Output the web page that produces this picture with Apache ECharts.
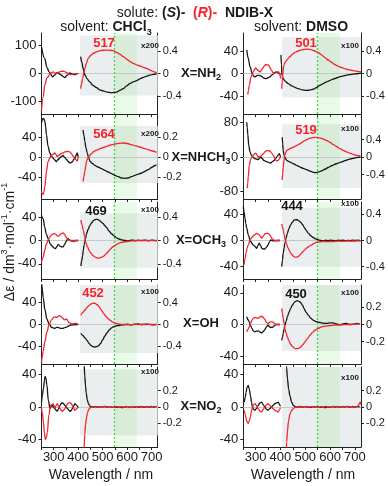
<!DOCTYPE html>
<html><head><meta charset="utf-8">
<script src="https://cdn.jsdelivr.net/npm/echarts@6/dist/echarts.min.js"></script>
<style>html,body{margin:0;padding:0;background:#fff}#c{width:388px;height:486px}</style>
</head><body><div id="c"></div>
<script>
// ---------------- DATA (wavelength nm, Δε) ----------------
// black = (S)-enantiomer, red = (R)-enantiomer; UV = left axis, VIS = right (magnified) axis
const CHCl3_NH2_S_UV = [[250,95],[263,54],[272,22],[281,6],[288,-4],[295,-12],[304,-6],[314,4],[323,-1],[332,-6],[339,-11],[345,-15],[355,-6],[366,2],[376,-2],[386,-4],[394,-1],[400,0]];
const CHCl3_NH2_R_UV = [[250,-131],[257,-83],[263,-42],[273,-15],[284,-4],[291,3],[298,6],[305,2],[312,0],[318,4],[325,6],[332,8],[339,8],[346,6],[352,4],[359,0],[366,-4],[376,-2],[386,-1],[400,0]];
const CHCl3_NH2_S_VIS = [[410,0.30],[415,0.2],[420,0.09],[428,-0.03],[436,-0.09],[447,-0.15],[460,-0.21],[475,-0.25],[488,-0.29],[502,-0.31],[518,-0.33],[536,-0.345],[557,-0.33],[570,-0.30],[584,-0.27],[598,-0.22],[611,-0.18],[625,-0.15],[639,-0.125],[652,-0.095],[666,-0.07],[680,-0.045],[693,-0.03],[707,-0.015],[721,-0.006]];
const CHCl3_NH2_R_VIS = [[410,-0.27],[414,-0.18],[418,-0.09],[423,0.01],[428,0.10],[434,0.19],[441,0.27],[451,0.32],[461,0.357],[475,0.385],[489,0.405],[502,0.413],[516,0.417],[530,0.413],[543,0.405],[557,0.375],[571,0.34],[584,0.30],[598,0.256],[611,0.215],[625,0.18],[638,0.155],[652,0.137],[666,0.11],[680,0.09],[690,0.07],[700,0.048],[710,0.03],[721,0.012]];

const CHCl3_NHCH3_S_UV = [[250,68],[254,75],[257,77],[260,76],[264,71],[267,60],[270,45],[277,21],[284,8],[290,2],[297,-2],[304,-6],[311,-9],[318,-5],[325,-2],[331,1],[338,3],[345,-1],[352,-5],[359,-9],[366,-12],[372,-11],[377,-9],[382,-5],[386,-2],[391,3],[396,8],[400,0]];
const CHCl3_NHCH3_R_UV = [[250,-69],[254,-74],[257,-75],[260,-70],[264,-59],[267,-45],[270,-29],[277,-9],[284,-2],[290,3],[295,5],[304,8],[309,5],[314,1],[320,3],[325,5],[331,7],[338,8],[345,10],[352,11],[359,11],[366,10],[372,7],[377,3],[382,0],[386,-2],[391,-6],[396,-8],[400,0]];
const CHCl3_NHCH3_S_VIS = [[420,0.27],[424,0.21],[427,0.157],[432,0.09],[437,0.04],[442,0.0],[448,-0.043],[458,-0.065],[468,-0.083],[481,-0.10],[495,-0.117],[509,-0.133],[523,-0.15],[536,-0.167],[550,-0.183],[564,-0.197],[577,-0.21],[591,-0.213],[604,-0.21],[618,-0.197],[632,-0.183],[645,-0.172],[659,-0.16],[672,-0.145],[686,-0.127],[700,-0.105],[710,-0.09],[720,-0.077]];
const CHCl3_NHCH3_R_VIS = [[420,-0.243],[424,-0.19],[427,-0.143],[431,-0.09],[434,-0.043],[440,-0.01],[445,0.007],[453,0.03],[461,0.05],[475,0.068],[489,0.083],[502,0.095],[516,0.107],[533,0.12],[550,0.13],[567,0.137],[584,0.14],[601,0.135],[618,0.123],[635,0.112],[652,0.10],[669,0.087],[686,0.073],[703,0.06],[720,0.047]];

const CHCl3_OCH3_S_UV = [[250,43],[257,37],[263,23],[270,11],[277,3],[286,-6],[292,-9],[297,-11],[302,-13],[307,-14],[312,-11],[318,-7],[322,-8],[327,-10],[333,-11],[338,-11],[344,-7],[349,-3],[354,1],[359,3],[364,1],[368,0],[377,-1],[386,-1],[393,0],[400,0]];
const CHCl3_OCH3_R_UV = [[250,-37],[257,-29],[263,-17],[270,-6],[277,1],[286,7],[292,10],[297,11],[302,12],[307,11],[312,9],[318,7],[322,8],[327,11],[333,12],[338,13],[344,11],[349,7],[354,4],[359,1],[368,0],[400,0]];
const CHCl3_OCH3_S_VIS = [[411,-0.43],[414,-0.35],[418,-0.26],[421,-0.16],[425,-0.06],[430,0.03],[434,0.114],[441,0.19],[448,0.257],[455,0.30],[461,0.33],[468,0.35],[475,0.36],[482,0.35],[489,0.33],[495,0.31],[502,0.286],[509,0.25],[516,0.217],[526,0.16],[536,0.114],[547,0.075],[557,0.046],[567,0.025],[577,0.011],[591,0.0],[605,-0.006],[615,0.004],[625,0.006],[635,-0.004],[645,0.005],[655,-0.003],[665,0.002],[675,0.006],[685,-0.004],[695,0.003],[705,0.006],[715,-0.003],[722,0.002]];
const CHCl3_OCH3_R_VIS = [[411,0.343],[416,0.26],[421,0.17],[426,0.07],[431,-0.03],[438,-0.11],[445,-0.17],[453,-0.22],[461,-0.257],[470,-0.28],[478,-0.297],[487,-0.295],[495,-0.286],[504,-0.265],[513,-0.23],[522,-0.19],[532,-0.143],[541,-0.11],[550,-0.086],[560,-0.06],[570,-0.04],[584,-0.025],[598,-0.017],[612,-0.01],[625,-0.006],[640,-0.003],[655,0.002],[670,-0.002],[685,0.001],[700,-0.003],[722,0.0]];

const CHCl3_OH_S_UV = [[250,80],[254,62],[257,48],[264,27],[272,10],[281,1],[291,-5],[302,-7],[308,-6],[315,-5],[322,-6],[329,-7],[336,-7],[343,-6],[350,-5],[356,-4],[363,-2],[370,-1],[386,0],[400,0]];
const CHCl3_OH_R_UV = [[250,-68],[254,-58],[257,-48],[264,-31],[272,-14],[281,0],[291,8.5],[302,14],[311,13],[316,14],[322,16],[327,15],[332,14],[338,11],[343,8.5],[348,9],[352,10],[358,6],[363,3],[370,2],[377,1.2],[384,2],[390,2.2],[395,1],[400,0]];
const CHCl3_OH_S_VIS = [[411,-0.16],[419,-0.2],[427,-0.24],[436,-0.29],[445,-0.35],[453,-0.385],[461,-0.405],[468,-0.41],[475,-0.405],[483,-0.385],[491,-0.35],[500,-0.28],[509,-0.21],[518,-0.15],[527,-0.1],[535,-0.066],[543,-0.044],[553,-0.027],[564,-0.018],[574,-0.011],[584,-0.006],[600,0.0],[615,-0.008],[630,0.005],[645,0.01],[660,-0.005],[675,0.008],[690,0.002],[705,-0.006],[720,0.004]];
const CHCl3_OH_R_VIS = [[411,0.17],[419,0.22],[427,0.26],[436,0.31],[445,0.35],[453,0.375],[461,0.39],[469,0.385],[478,0.36],[486,0.32],[495,0.26],[504,0.2],[513,0.15],[521,0.11],[530,0.08],[540,0.047],[550,0.026],[560,0.012],[570,0.006],[585,0.0],[600,0.006],[615,-0.004],[630,0.003],[645,-0.002],[660,0.005],[675,-0.003],[690,0.004],[705,0.0],[720,0.003]];

const CHCl3_NO2_S_UV = [[250,6],[254,15],[258,23],[262,33],[265,37.5],[268,35],[272,27],[278,8],[285,-2],[290,1],[294,2],[299,0],[304,-2],[310,-4],[315,-5],[320,-2],[326,2],[331,4.5],[335,5.4],[340,4],[346,2],[351,0],[356,-2],[362,-4],[367,-5.4],[372,-4],[376,-2],[381,1],[386,4],[390,3],[394,2],[400,-1]];
const CHCl3_NO2_R_UV = [[250,-2],[254,-8],[258,-19],[262,-32],[266,-40],[270,-37],[274,-31],[280,-10],[287,2],[292,3],[297,4],[301,2],[306,-1],[310,2],[315,4],[320,1],[326,-2],[331,-4],[335,-5.4],[340,-4],[346,-2],[351,1],[356,4],[362,5],[367,5.4],[372,4],[376,2],[381,-1],[386,-4],[390,-3],[394,-2],[400,0]];
const CHCl3_NO2_S_VIS = [[418,0.9],[421,0.7],[424,0.52],[427,0.38],[430,0.26],[433,0.17],[437,0.09],[442,0.04],[447,0.015],[452,0.005],[460,0.0],[470,0.006],[480,-0.004],[490,0.005],[500,0.0],[510,0.007],[520,-0.003],[530,0.004],[540,-0.005],[550,0.003],[560,-0.006],[570,0.004],[580,-0.008],[590,-0.002],[600,0.005],[610,-0.006],[620,0.004],[630,-0.003],[640,0.005],[650,-0.004],[660,0.006],[670,-0.005],[680,0.004],[690,-0.002],[700,0.006],[710,0.0],[720,0.004]];
const CHCl3_NO2_R_VIS = [[418,-0.9],[421,-0.7],[424,-0.5],[427,-0.33],[430,-0.22],[434,-0.13],[438,-0.07],[443,-0.03],[448,-0.01],[455,0.0],[465,0.004],[475,-0.003],[485,0.005],[495,0.0],[505,0.006],[515,-0.004],[525,0.005],[535,0.002],[545,-0.004],[555,0.006],[565,0.0],[575,0.005],[585,-0.003],[595,0.006],[605,0.002],[615,-0.004],[625,0.005],[635,0.0],[645,0.006],[655,-0.003],[665,0.004],[675,0.0],[685,0.006],[695,-0.002],[705,0.005],[715,0.002],[722,0.006]];

const DMSO_NH2_S_UV = [[264,42],[270,27],[277,12],[286,0],[292,-5],[297,-6],[304,-4],[311,-3],[318,-4],[324,-5],[332,-8],[340,-9],[348,-8],[357,-6],[364,-3],[371,-1],[378,2],[384,3],[390,1],[395,0],[400,-2]];
const DMSO_NH2_R_UV = [[268,-37.5],[271,-30],[274,-21],[281,-6],[290,3],[295,7],[300,10],[304,8],[308,6],[317,3],[322,5],[328,9],[334,13],[341,16],[347,15.5],[352,15],[358,10],[364,6],[369,2],[374,0],[379,1],[384,2],[389,3],[393,3],[397,-2],[401,-9]];
const DMSO_NH2_S_VIS = [[402,0.33],[404,0.15],[406,-0.03],[411,-0.09],[418,-0.13],[425,-0.16],[435,-0.19],[445,-0.22],[458,-0.245],[471,-0.27],[488,-0.29],[505,-0.30],[518,-0.295],[532,-0.28],[545,-0.25],[559,-0.21],[572,-0.18],[586,-0.15],[599,-0.125],[612,-0.10],[626,-0.08],[639,-0.06],[652,-0.045],[666,-0.03],[680,-0.02],[693,-0.012],[707,-0.004],[720,0.004],[725,0.006]];
const DMSO_NH2_R_VIS = [[405,-0.27],[407,-0.15],[409,-0.03],[411,0.06],[414,0.15],[418,0.19],[422,0.22],[430,0.26],[438,0.30],[448,0.34],[458,0.375],[471,0.40],[485,0.42],[498,0.43],[512,0.435],[525,0.42],[539,0.40],[552,0.37],[566,0.33],[579,0.285],[592,0.24],[606,0.2],[619,0.16],[632,0.13],[646,0.107],[659,0.087],[673,0.07],[686,0.058],[700,0.048],[713,0.038],[725,0.03]];

const DMSO_NHCH3_S_UV = [[264,81],[266,68],[268,54],[272,27],[277,12],[282,5],[286,1.5],[292,-2],[297,-4],[304,-5],[310,-6],[315,-3],[320,0],[327,-4],[333,-8],[340,-10],[347,-11.6],[354,-13],[360,-14],[367,-11],[374,-8],[380,-4],[387,1.5],[391,5],[395,8],[400,0]];
const DMSO_NHCH3_R_UV = [[266,-73],[268,-60],[270,-46],[274,-19],[281,-4],[286,1],[290,4],[295,7],[300,9],[305,5],[310,0],[315,1],[320,1.5],[326,5],[331,8],[337,12],[344,15],[350,15],[357,14],[364,9],[371,4],[377,-2],[382,-8],[387,-9],[391,-8],[395,-5],[398,-2],[400,0]];
const DMSO_NHCH3_S_VIS = [[407,0.45],[409,0.3],[411,0.15],[414,0.06],[417,0.0],[421,-0.04],[425,-0.075],[435,-0.105],[445,-0.136],[455,-0.16],[465,-0.19],[478,-0.225],[492,-0.26],[505,-0.29],[519,-0.32],[530,-0.345],[539,-0.36],[552,-0.345],[566,-0.316],[579,-0.28],[593,-0.24],[606,-0.2],[620,-0.166],[633,-0.14],[646,-0.113],[660,-0.085],[673,-0.06],[686,-0.04],[700,-0.023],[712,-0.01],[723,0.0]];
const DMSO_NHCH3_R_VIS = [[407,-0.527],[409,-0.38],[411,-0.226],[414,-0.09],[417,0.038],[421,0.1],[425,0.15],[431,0.17],[438,0.19],[448,0.215],[458,0.24],[468,0.27],[478,0.30],[488,0.34],[498,0.376],[508,0.405],[519,0.43],[532,0.445],[545,0.45],[558,0.435],[572,0.414],[585,0.38],[599,0.34],[612,0.29],[626,0.24],[640,0.19],[653,0.15],[666,0.118],[680,0.09],[693,0.06],[707,0.038],[723,0.023]];

const DMSO_OCH3_S_UV = [[250,52],[253,44],[257,34],[260,26],[264,19],[270,8.7],[279,-1.5],[290,-6.7],[297,-9],[304,-12],[309,-8],[314,-4],[320,-8],[325,-12],[331,-13],[337,-13],[344,-10],[350,-6.7],[356,-2],[361,1],[366,0],[372,-0.5],[378,-0.5],[385,0],[398,0]];
const DMSO_OCH3_R_UV = [[253,-37],[257,-28],[261,-19.5],[265,-12],[270,-6.7],[279,2],[285,5],[290,7],[297,9],[304,11],[309,10],[314,8.7],[320,6],[325,3.6],[331,7],[337,10],[344,11],[350,11],[356,9],[361,6],[366,3],[371,1],[380,0],[398,0]];
const DMSO_OCH3_S_VIS = [[405,-0.40],[408,-0.3],[411,-0.195],[415,-0.11],[418,-0.04],[423,0.04],[428,0.113],[434,0.18],[441,0.24],[448,0.28],[455,0.31],[461,0.318],[468,0.318],[475,0.30],[482,0.277],[489,0.245],[495,0.205],[503,0.16],[512,0.113],[522,0.075],[532,0.046],[542,0.025],[552,0.01],[562,0.0],[572,-0.005],[582,0.004],[592,-0.003],[602,0.006],[612,0.0],[622,-0.005],[632,0.004],[642,0.0],[652,0.005],[662,-0.004],[672,0.003],[682,-0.003],[692,0.005],[702,0.0],[712,0.004],[723,-0.002]];
const DMSO_OCH3_R_VIS = [[405,0.256],[408,0.21],[411,0.164],[415,0.09],[419,0.01],[425,-0.06],[431,-0.118],[438,-0.17],[445,-0.21],[452,-0.24],[458,-0.256],[465,-0.255],[472,-0.246],[479,-0.22],[485,-0.195],[495,-0.155],[505,-0.118],[515,-0.09],[525,-0.067],[535,-0.045],[545,-0.03],[558,-0.02],[572,-0.015],[590,-0.016],[612,-0.015],[630,-0.01],[650,-0.012],[670,-0.008],[690,-0.01],[710,-0.006],[723,-0.005]];

const DMSO_OH_S_UV = [[264,9.8],[269,6],[274,3.4],[279,-1],[285,-5],[291,-8],[297,-9.4],[303,-8.5],[310,-8],[317,-9.5],[324,-10.6],[330,-9],[337,-6.4],[343,-3],[350,-0.9],[355,-2.5],[360,-3.8],[366,-3.5],[371,-3],[377,-1],[382,0],[398,0]];
const DMSO_OH_R_UV = [[264,-9.4],[269,-6],[274,-3],[279,1],[285,5.5],[291,8],[297,9],[303,8.5],[310,7.7],[317,9.5],[324,10.6],[330,9],[337,6.4],[343,3],[350,1.3],[355,2.5],[360,3.4],[366,3.3],[371,3],[377,1],[382,0],[398,0]];
const DMSO_OH_S_VIS = [[405,-0.184],[408,-0.15],[411,-0.106],[415,-0.05],[418,-0.008],[423,0.04],[428,0.09],[434,0.14],[441,0.188],[448,0.225],[455,0.255],[461,0.27],[468,0.278],[475,0.27],[482,0.255],[489,0.225],[495,0.188],[503,0.145],[512,0.11],[522,0.075],[532,0.05],[545,0.033],[559,0.024],[572,0.016],[586,0.012],[599,0.018],[612,0.02],[625,0.006],[639,-0.004],[652,0.008],[666,0.012],[680,0.0],[693,0.004],[707,0.012],[720,0.008]];
const DMSO_OH_R_VIS = [[405,0.188],[408,0.13],[411,0.07],[415,0.01],[418,-0.047],[423,-0.1],[428,-0.145],[434,-0.19],[441,-0.23],[448,-0.255],[455,-0.274],[461,-0.28],[468,-0.282],[475,-0.275],[482,-0.263],[490,-0.235],[499,-0.204],[509,-0.165],[519,-0.125],[529,-0.094],[539,-0.067],[552,-0.045],[566,-0.027],[582,-0.018],[599,-0.012],[619,-0.008],[639,-0.004],[660,-0.002],[680,0.0],[700,0.004],[720,0.008]];

const DMSO_NO2_S_UV = [[254,6],[258,12],[261,18],[265,24],[270,26.5],[274,22],[279,14],[283,6],[287,0],[292,-3],[297,-4],[303,-2],[310,2],[317,5],[324,6],[330,3],[337,0],[344,-3],[350,-4],[357,-2],[364,0],[370,2],[377,4],[384,5],[391,6],[396,3],[400,1]];
const DMSO_NO2_R_UV = [[254,-4],[258,-9],[261,-14],[265,-18],[270,-20],[274,-17],[279,-12],[283,-5],[287,0],[292,3],[297,4],[303,2],[310,-2],[317,-5],[324,-6],[330,-3],[337,0],[344,3],[350,4],[357,2],[364,0],[370,-2],[377,-4],[384,-5],[391,-6],[396,-3],[400,-1]];
const DMSO_NO2_S_VIS = [[418,0.9],[421,0.7],[425,0.48],[428,0.35],[433,0.22],[438,0.14],[445,0.06],[452,0.02],[460,0.005],[470,0.0],[480,0.006],[490,-0.004],[500,0.004],[510,0.0],[520,-0.006],[530,0.004],[540,0.0],[550,0.006],[560,-0.005],[570,0.004],[580,-0.008],[590,0.003],[600,-0.004],[610,0.006],[620,-0.002],[630,0.005],[640,-0.004],[650,0.006],[660,0.0],[670,0.008],[680,-0.003],[690,0.006],[700,0.0],[710,0.005],[720,0.002]];
const DMSO_NO2_R_VIS = [[418,-0.9],[421,-0.7],[425,-0.43],[428,-0.3],[432,-0.18],[438,-0.09],[445,-0.04],[455,-0.01],[465,0.004],[475,-0.002],[485,0.005],[495,0.0],[505,0.006],[515,-0.003],[525,0.004],[535,0.0],[545,0.005],[555,-0.004],[565,0.006],[575,0.0],[585,0.008],[595,-0.002],[605,0.005],[615,0.002],[625,0.006],[635,-0.003],[645,0.004],[655,0.0],[665,0.006],[675,-0.004],[685,0.005],[695,0.0],[705,0.004],[712,0.01],[718,0.04],[722,0.06],[725,0.03]];

// tick labels
const X_TICKS = [250,300,350,400,450,500,550,600,650,700];
const X_LABELS = [300,400,500,600,700];
const SUBSTITUENTS = ['NH2','NHCH3','OCH3','OH','NO2'];
const PEAKS_CHCl3 = ['517','564','469','452',''];
const PEAKS_DMSO = ['501','519','444','450',''];
const PEAK_SIGN_CHCl3 = ['R','R','S','R',''];
const PEAK_SIGN_DMSO = ['R','R','S','S',''];
const MAGNIF_CHCl3 = ['x200','x200','x100','x100','x100'];
const MAGNIF_DMSO = ['x100','x100','x100','x100','x100'];
const EXC_LINE = 549, EXC_END = 640, VIS_START = 407;

// ---------------- layout ----------------
const FONT = '"Liberation Sans", Arial, Helvetica, sans-serif';
const BLACK = '#141414', RED = '#f5222d';
const COLS = [{left:41.5, width:116.2},{left:243.3, width:117.7}];
const ROWS = [{top:33,bottom:114},{top:115,bottom:199},{top:202,bottom:279},{top:285,bottom:364},{top:367,bottom:447}];

const panels = [
 {d:[CHCl3_NH2_S_UV,CHCl3_NH2_R_UV,CHCl3_NH2_S_VIS,CHCl3_NH2_R_VIS], yL:144, yR:0.72, tL:[-100,0,100], tR:[-0.4,0,0.4], gray:[0.68,-0.39]},
 {d:[DMSO_NH2_S_UV,DMSO_NH2_R_UV,DMSO_NH2_S_VIS,DMSO_NH2_R_VIS], yL:72, yR:0.72, tL:[-40,0,40], tR:[-0.4,0,0.4], gray:[0.65,-0.42]},
 {d:[CHCl3_NHCH3_S_UV,CHCl3_NHCH3_R_UV,CHCl3_NHCH3_S_VIS,CHCl3_NHCH3_R_VIS], yL:84, yR:0.42, tL:[-40,0,40], tR:[-0.2,0,0.2], gray:[0.31,-0.26]},
 {d:[DMSO_NHCH3_S_UV,DMSO_NHCH3_R_UV,DMSO_NHCH3_S_VIS,DMSO_NHCH3_R_VIS], yL:98, yR:0.96, tL:[-80,0,80], tR:[-0.4,0,0.4], gray:[0.75,-0.71]},
 {d:[CHCl3_OCH3_S_UV,CHCl3_OCH3_R_UV,CHCl3_OCH3_S_VIS,CHCl3_OCH3_R_VIS], yL:66, yR:0.65, tL:[-40,0,40], tR:[-0.4,0,0.4], gray:[0.46,-0.46]},
 {d:[DMSO_OCH3_S_UV,DMSO_OCH3_R_UV,DMSO_OCH3_S_VIS,DMSO_OCH3_R_VIS], yL:59, yR:0.59, tL:[-40,0,40], tR:[-0.4,0,0.4], gray:[0.50,-0.40]},
 {d:[CHCl3_OH_S_UV,CHCl3_OH_R_UV,CHCl3_OH_S_VIS,CHCl3_OH_R_VIS], yL:72, yR:0.72, tL:[-40,0,40], tR:[-0.4,0,0.4], gray:[0.72,-0.52]},
 {d:[DMSO_OH_S_UV,DMSO_OH_R_UV,DMSO_OH_S_VIS,DMSO_OH_R_VIS], yL:50, yR:0.46, tL:[-40,0,40], tR:[-0.2,0,0.2], gray:[0.46,-0.31]},
 {d:[CHCl3_NO2_S_UV,CHCl3_NO2_R_UV,CHCl3_NO2_S_VIS,CHCl3_NO2_R_VIS], yL:49, yR:0.49, tL:[-40,0,40], tR:[-0.2,0,0.2], gray:[0.46,-0.35]},
 {d:[DMSO_NO2_S_UV,DMSO_NO2_R_UV,DMSO_NO2_S_VIS,DMSO_NO2_R_VIS], yL:49, yR:0.49, tL:[-40,0,40], tR:[-0.2,0,0.2], gray:[0.49,-0.49]}
];

const grid=[], xAxis=[], yAxis=[], series=[];
panels.forEach((p,i)=>{
  const r = Math.floor(i/2), c = i%2;
  grid.push({left:COLS[c].left, width:COLS[c].width, top:ROWS[r].top, height:ROWS[r].bottom-ROWS[r].top, outerBoundsMode:'none', containLabel:false});
  xAxis.push({type:'value', gridIndex:i, min:250, max:725,
    axisLine:{show:true, onZero:false, lineStyle:{color:'#222', width:1}},
    axisTick:{show:true, inside:false, length:3, customValues:X_TICKS, lineStyle:{color:'#222', width:1}},
    axisLabel:{show:r===4, customValues:X_LABELS, fontSize:13, color:'#1a1a1a', margin:4, fontFamily:FONT},
    splitLine:{show:false}});
  yAxis.push({type:'value', gridIndex:i, min:-p.yL, max:p.yL, position:'left',
    axisLine:{show:true, onZero:false, lineStyle:{color:'#222', width:1}},
    axisTick:{show:true, inside:false, length:3, customValues:p.tL, lineStyle:{color:'#222'}},
    axisLabel:{customValues:p.tL, fontSize:13, color:'#1a1a1a', margin:5, fontFamily:FONT},
    splitLine:{show:false}});
  yAxis.push({type:'value', gridIndex:i, min:-p.yR, max:p.yR, position:'right',
    axisLine:{show:true, onZero:false, lineStyle:{color:'#222', width:1}},
    axisTick:{show:true, inside:false, length:3, customValues:p.tR, lineStyle:{color:'#222'}},
    axisLabel:{customValues:p.tR, fontSize:11, color:'#1a1a1a', margin:5, fontFamily:FONT},
    splitLine:{show:false}});
  series.push({type:'line', xAxisIndex:i, yAxisIndex:2*i+1, data:[], z:1, silent:true, animation:false,
    markArea:{silent:true, animation:false, data:[
      [{xAxis:VIS_START, yAxis:p.gray[0], itemStyle:{color:'#eaeeee'}},{xAxis:725, yAxis:p.gray[1]}],
      [{xAxis:EXC_LINE, yAxis:p.yR, itemStyle:{color:'rgba(150,228,140,0.2)'}},{xAxis:EXC_END, yAxis:-p.yR}]
    ]},
    markLine:{silent:true, animation:false, symbol:'none', label:{show:false}, data:[
      {yAxis:0, lineStyle:{color:'#c3caca', width:1, type:'solid'}},
      {xAxis:EXC_LINE, lineStyle:{color:'#3bdc3b', width:1.3, type:[2,2]}}
    ]}});
  const cols=[BLACK,RED,BLACK,RED];
  p.d.forEach((arr,k)=>{
    series.push({type:'line', xAxisIndex:i, yAxisIndex:k<2?2*i:2*i+1, data:arr, showSymbol:false, symbol:'none',
      smooth:0.35, smoothMonotone:'x', z:5, silent:true, animation:false, clip:true,
      lineStyle:{color:cols[k], width:1.3}});
  });
});

// ---------------- text ----------------
const graphic=[];
function txt(x,y,text,rich,extra){
  graphic.push(Object.assign({type:'text', x, y, silent:true, z:100,
    style:Object.assign({text, x:0, y:0, align:'center', verticalAlign:'middle', fill:'#1a1a1a', font:'14px '+FONT, rich:rich||{}}, extra||{})}));
}
const N = {fontSize:14, fontFamily:FONT, lineHeight:20, fill:'#1a1a1a'};
txt(195,13,'{n|solute: }{b|(}{bi|S}{b|)-}{n|  }{r|(}{ri|R}{r|)-}{n|  }{b|NDIB-X}',{
  n:N, b:Object.assign({},N,{fontWeight:'bold'}), bi:Object.assign({},N,{fontWeight:'bold',fontStyle:'italic'}),
  r:Object.assign({},N,{fontWeight:'bold',fill:RED}), ri:Object.assign({},N,{fontWeight:'bold',fontStyle:'italic',fill:RED})});
const SUBR = {n:N, b:Object.assign({},N,{fontWeight:'bold'}), s:{fontSize:9, fontWeight:'bold', fontFamily:FONT, lineHeight:9, verticalAlign:'bottom', fill:'#1a1a1a'}};
txt(106,27,'{n|solvent: }{b|CHCl}{s|3}',SUBR);
txt(301,27,'{n|solvent: }{b|DMSO}',SUBR);

const XB = {b:{fontSize:13, fontWeight:'bold', fontFamily:FONT, lineHeight:18, fill:'#1a1a1a'}, s:{fontSize:9, fontWeight:'bold', fontFamily:FONT, lineHeight:8, verticalAlign:'bottom', fill:'#1a1a1a'}};
const xLabelY=[73,157,240,323,406];
SUBSTITUENTS.forEach((s,r)=>{
  const m = s.match(/^(.*?)(\d?)$/);
  txt(201, xLabelY[r], '{b|X='+m[1]+'}'+(m[2]?'{s|'+m[2]+'}':''), XB);
});
const peakY=[43,134,211,293,0], peakYd=[43,130,206,294,0];
const magY=[46,134,210,292,372], magYd=[46,129,204,293,378];
for(let r=0;r<5;r++){
  if(PEAKS_CHCl3[r]) txt(r===2?96:(r===3?93:104), peakY[r], PEAKS_CHCl3[r], null, {font:'bold 13px '+FONT, fill:PEAK_SIGN_CHCl3[r]==='R'?RED:BLACK});
  if(PEAKS_DMSO[r]) txt(r===2?292:(r===3?296:306), peakYd[r], PEAKS_DMSO[r], null, {font:'bold 13px '+FONT, fill:PEAK_SIGN_DMSO[r]==='R'?RED:BLACK});
  txt(150, magY[r], MAGNIF_CHCl3[r], null, {font:'bold 8px '+FONT});
  txt(350, magYd[r], MAGNIF_DMSO[r], null, {font:'bold 8px '+FONT});
}
txt(101,475,'Wavelength / nm',null,{font:'14px '+FONT});
txt(303,475,'Wavelength / nm',null,{font:'14px '+FONT});
graphic.push({type:'text', x:10, y:242, rotation:Math.PI/2, silent:true, z:100,
  style:{text:'{n|Δε / dm}{p|3}{n|·mol}{p|-1}{n|·cm}{p|-1}', x:0, y:0, align:'center', verticalAlign:'middle',
    rich:{n:{fontSize:14, fontFamily:FONT, lineHeight:20, fill:'#1a1a1a'}, p:{fontSize:9, fontFamily:FONT, lineHeight:9, verticalAlign:'top', fill:'#1a1a1a'}}}});

const chart = echarts.init(document.getElementById('c'), null, {renderer:'canvas'});
chart.setOption({animation:false, backgroundColor:'#ffffff', textStyle:{fontFamily:FONT},
  grid, xAxis, yAxis, series, graphic});
</script></body></html>
